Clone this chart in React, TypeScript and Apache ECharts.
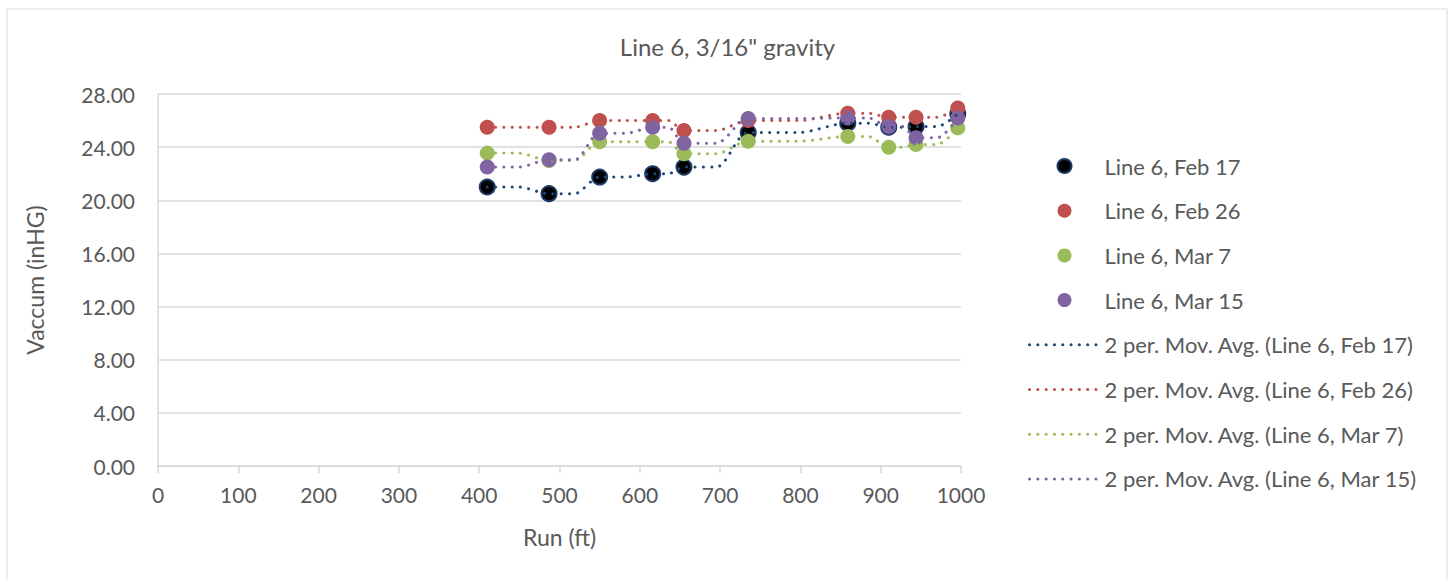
import React, { useEffect, useRef } from "react";
import * as echarts from "echarts";

const title = 'Line 6, 3/16" gravity';
const xAxisName = "Run (ft)";
const yAxisName = "Vaccum (inHG)";
const xTicks = [0, 100, 200, 300, 400, 500, 600, 700, 800, 900, 1000];
const yTicks = [0, 4, 8, 12, 16, 20, 24, 28];

const runFt = [410, 487, 550, 616, 655, 735, 859, 910, 944, 996];
const seriesNames = ["Line 6, Feb 17", "Line 6, Feb 26", "Line 6, Mar 7", "Line 6, Mar 15"];
const feb17 = [21.0, 20.5, 21.75, 22.0, 22.5, 25.1, 25.8, 25.5, 25.55, 26.5];
const feb26 = [25.5, 25.5, 26.0, 26.0, 25.25, 26.0, 26.55, 26.25, 26.25, 26.95];
const mar7 = [23.55, 23.0, 24.4, 24.4, 23.5, 24.45, 24.8, 24.0, 24.2, 25.45];
const mar15 = [22.5, 23.05, 25.05, 25.5, 24.3, 26.15, 26.2, 25.55, 24.7, 26.2];

const markerColors = ["#000000", "#C0504D", "#9BBB59", "#8064A2"];
const markerBorders = ["#1F3864", "#C0504D", "#9BBB59", "#8064A2"];
const lineColors = ["#1F497D", "#C0504D", "#9BBB59", "#8064A2"];

const allValues = [feb17, feb26, mar7, mar15];

// Moving-average trendline path: each reading is held until half-way to the next run, then ramps to it.
function trendPath(xs: number[], ys: number[]) {
  const pts: number[][] = [];
  for (let i = 0; i < xs.length; i++) {
    pts.push([xs[i], ys[i]]);
    if (i < xs.length - 1) pts.push([(xs[i] + xs[i + 1]) / 2, ys[i]]);
  }
  return pts;
}

const FONT = "Lato, 'Open Sans', sans-serif";
const TXT = "#595959";
const DOTS = { width: 3, type: [0.1, 8.2], cap: "round" };

export default function App() {
  const ref = useRef<HTMLDivElement>(null);
  useEffect(() => {
    if (!ref.current) return;
    const chart = echarts.init(ref.current, undefined, { renderer: "svg" });
    const maName = (n: string) => `2 per. Mov. Avg. (${n})`;
    const scatterSeries = seriesNames.map((name, k) => ({
      type: "scatter",
      name,
      data: runFt.map((x, i) => [x, allValues[k][i]]),
      symbol: "circle",
      symbolSize: 15,
      itemStyle: { color: markerColors[k], borderColor: markerBorders[k], borderWidth: k === 0 ? 2 : 0, opacity: 1 },
      z: 2,
    }));
    const lineSeries = seriesNames.map((name, k) => ({
      type: "line",
      name: maName(name),
      data: trendPath(runFt, allValues[k]),
      symbol: "none",
      smooth: 0.3,
      lineStyle: { color: lineColors[k], ...DOTS },
      itemStyle: { color: lineColors[k] },
      z: 3,
    }));
    chart.setOption({
      animation: false,
      backgroundColor: "#ffffff",
      textStyle: { fontFamily: FONT },
      title: {
        text: title,
        left: "center",
        top: 29,
        textStyle: { fontFamily: FONT, fontSize: 24, fontWeight: "normal", color: TXT },
      },
      graphic: [
        {
          type: "rect",
          shape: { x: 7, y: 9, width: 1440, height: 590 },
          style: { fill: "none", stroke: "#d9d9d9", lineWidth: 1 },
          silent: true,
          z: -1,
        },
      ],
      grid: { left: 158, right: 494, top: 94, bottom: 114, containLabel: false },
      xAxis: {
        type: "value",
        min: xTicks[0],
        max: xTicks[xTicks.length - 1],
        interval: 100,
        name: xAxisName,
        nameLocation: "middle",
        nameGap: 59,
        nameTextStyle: { fontFamily: FONT, fontSize: 23, color: TXT },
        axisLine: { show: true, lineStyle: { color: "#d9d9d9", width: 1.5 } },
        axisTick: { show: true, length: 7, lineStyle: { color: "#d9d9d9", width: 1.5 } },
        axisLabel: { fontFamily: FONT, fontSize: 21, color: TXT, margin: 18, formatter: (v: number) => String(v) },
        splitLine: { show: false },
      },
      yAxis: {
        type: "value",
        min: yTicks[0],
        max: yTicks[yTicks.length - 1],
        interval: 4,
        name: yAxisName,
        nameLocation: "middle",
        nameGap: 112,
        nameTextStyle: { fontFamily: FONT, fontSize: 23, color: TXT },
        axisLine: { show: true, lineStyle: { color: "#d9d9d9", width: 1.5 } },
        axisTick: { show: false },
        axisLabel: { fontFamily: FONT, fontSize: 21, color: TXT, margin: 23, formatter: (v: number) => v.toFixed(2) },
        splitLine: { show: true, lineStyle: { color: "#d9d9d9", width: 1.5 } },
      },
      legend: {
        orient: "vertical",
        left: 1023,
        top: 150,
        itemWidth: 70,
        itemHeight: 14,
        itemGap: 22.7,
        textStyle: { fontFamily: FONT, fontSize: 22, color: TXT },
        data: [
          ...seriesNames,
          ...seriesNames.map((n, k) => ({
            name: maName(n),
            itemStyle: { color: "rgba(0,0,0,0)", borderWidth: 0, opacity: 0 },
            lineStyle: { color: lineColors[k], ...DOTS },
          })),
        ],
      },
      series: [...scatterSeries, ...lineSeries],
    });
    return () => chart.dispose();
  }, []);
  return <div ref={ref} style={{ position: "fixed", left: 0, top: 0, width: 1455, height: 580 }} />;
}
